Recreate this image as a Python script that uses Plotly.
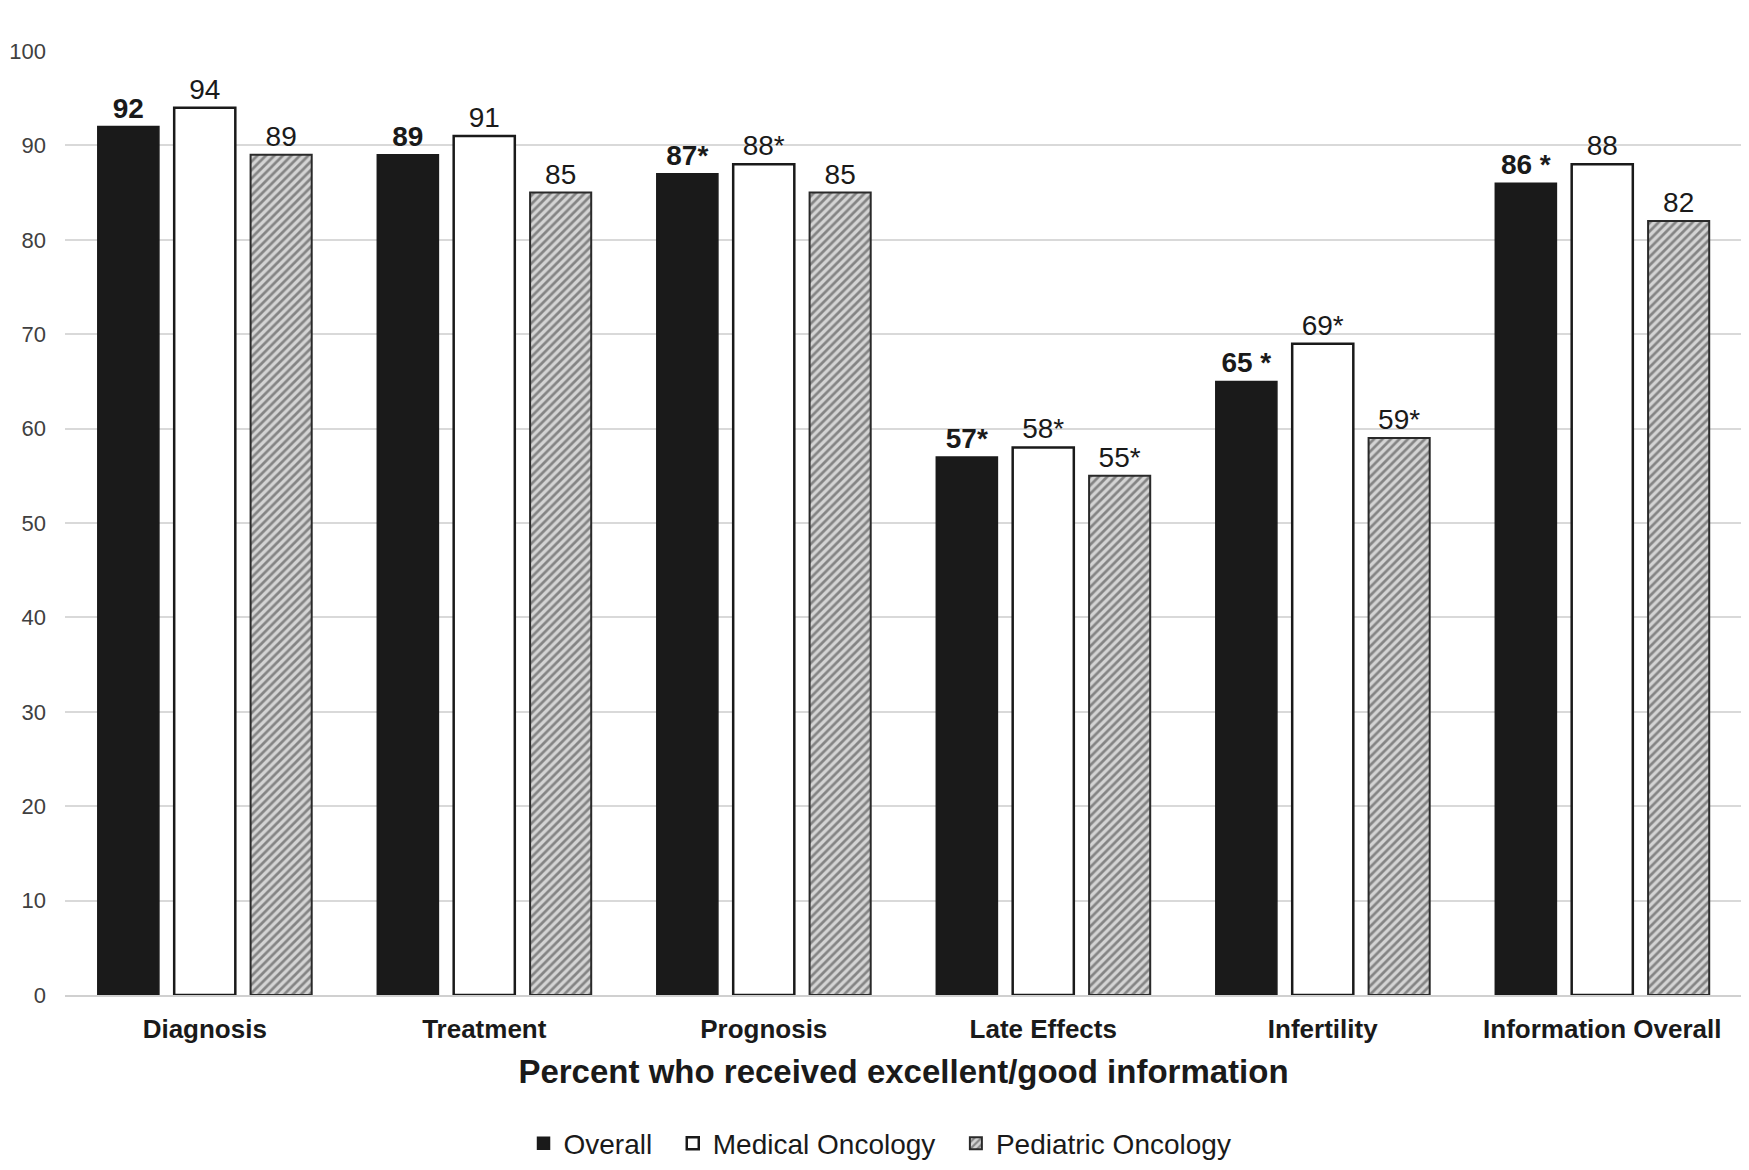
import plotly.graph_objects as go

categories = ["Diagnosis", "Treatment", "Prognosis", "Late Effects", "Infertility", "Information Overall"]
overall = [92, 89, 87, 57, 65, 86]
medical = [94, 91, 88, 58, 69, 88]
pediatric = [89, 85, 85, 55, 59, 82]
overall_lbl = ["92", "89", "87*", "57*", "65 *", "86 *"]
medical_lbl = ["94", "91", "88*", "58*", "69*", "88"]
pediatric_lbl = ["89", "85", "85", "55*", "59*", "82"]
series_names = ["Overall", "Medical Oncology", "Pediatric Oncology"]

FONT = "Liberation Sans, Arial, sans-serif"
LBL = 28
PAD = "\u00a0\u00a0"

fig = go.Figure()
fig.add_trace(go.Bar(
    name=series_names[0] + PAD, x=categories, y=overall,
    text=["<b>" + t + "</b>" for t in overall_lbl], textposition="outside",
    marker=dict(color="#1a1a1a", line=dict(color="#1a1a1a", width=1.5)),
    textfont=dict(size=LBL, color="#1a1a1a", family=FONT), cliponaxis=False,
))
fig.add_trace(go.Bar(
    name=series_names[1] + PAD, x=categories, y=medical,
    text=medical_lbl, textposition="outside",
    marker=dict(color="white", line=dict(color="#1a1a1a", width=2.5)),
    textfont=dict(size=LBL, color="#1a1a1a", family=FONT), cliponaxis=False,
))
fig.add_trace(go.Bar(
    name=series_names[2], x=categories, y=pediatric,
    text=pediatric_lbl, textposition="outside",
    marker=dict(color="white", line=dict(color="#2a2a2a", width=2),
                pattern=dict(shape="/", fgcolor="#333333", bgcolor="#d4d4d4", size=6, solidity=0.45)),
    textfont=dict(size=LBL, color="#1a1a1a", family=FONT), cliponaxis=False,
))

fig.update_layout(
    width=1749, height=1170,
    paper_bgcolor="white", plot_bgcolor="white",
    barmode="group", bargap=0.18, bargroupgap=0.2,
    margin=dict(l=57, r=15, t=43, b=183, autoexpand=False),
    font=dict(family=FONT, color="#1a1a1a"),
    uniformtext=dict(mode=False),
    xaxis=dict(
        automargin=False,
        showgrid=False, showline=True, linecolor="#d0d0d0", linewidth=2,
        tickfont=dict(size=26, color="#1a1a1a", family=FONT),
        ticks="", tickprefix="<b>", ticksuffix="</b>", ticklabelstandoff=10,
        title=dict(text="<b>Percent who received excellent/good information</b>",
                   font=dict(size=33, color="#1a1a1a", family=FONT), standoff=17),
    ),
    yaxis=dict(
        automargin=False,
        range=[0, 100], dtick=10, showgrid=True, gridcolor="#d9d9d9", gridwidth=2,
        zeroline=False, showline=False, ticks="", ticklabelstandoff=18,
        tickfont=dict(size=22, color="#404040", family=FONT),
    ),
    legend=dict(
        orientation="h", x=0.486, xanchor="center", y=-0.131, yanchor="top",
        font=dict(size=28, color="#1a1a1a", family=FONT),
        itemwidth=30, traceorder="normal",
    ),
)

fig.write_html("out.html")
